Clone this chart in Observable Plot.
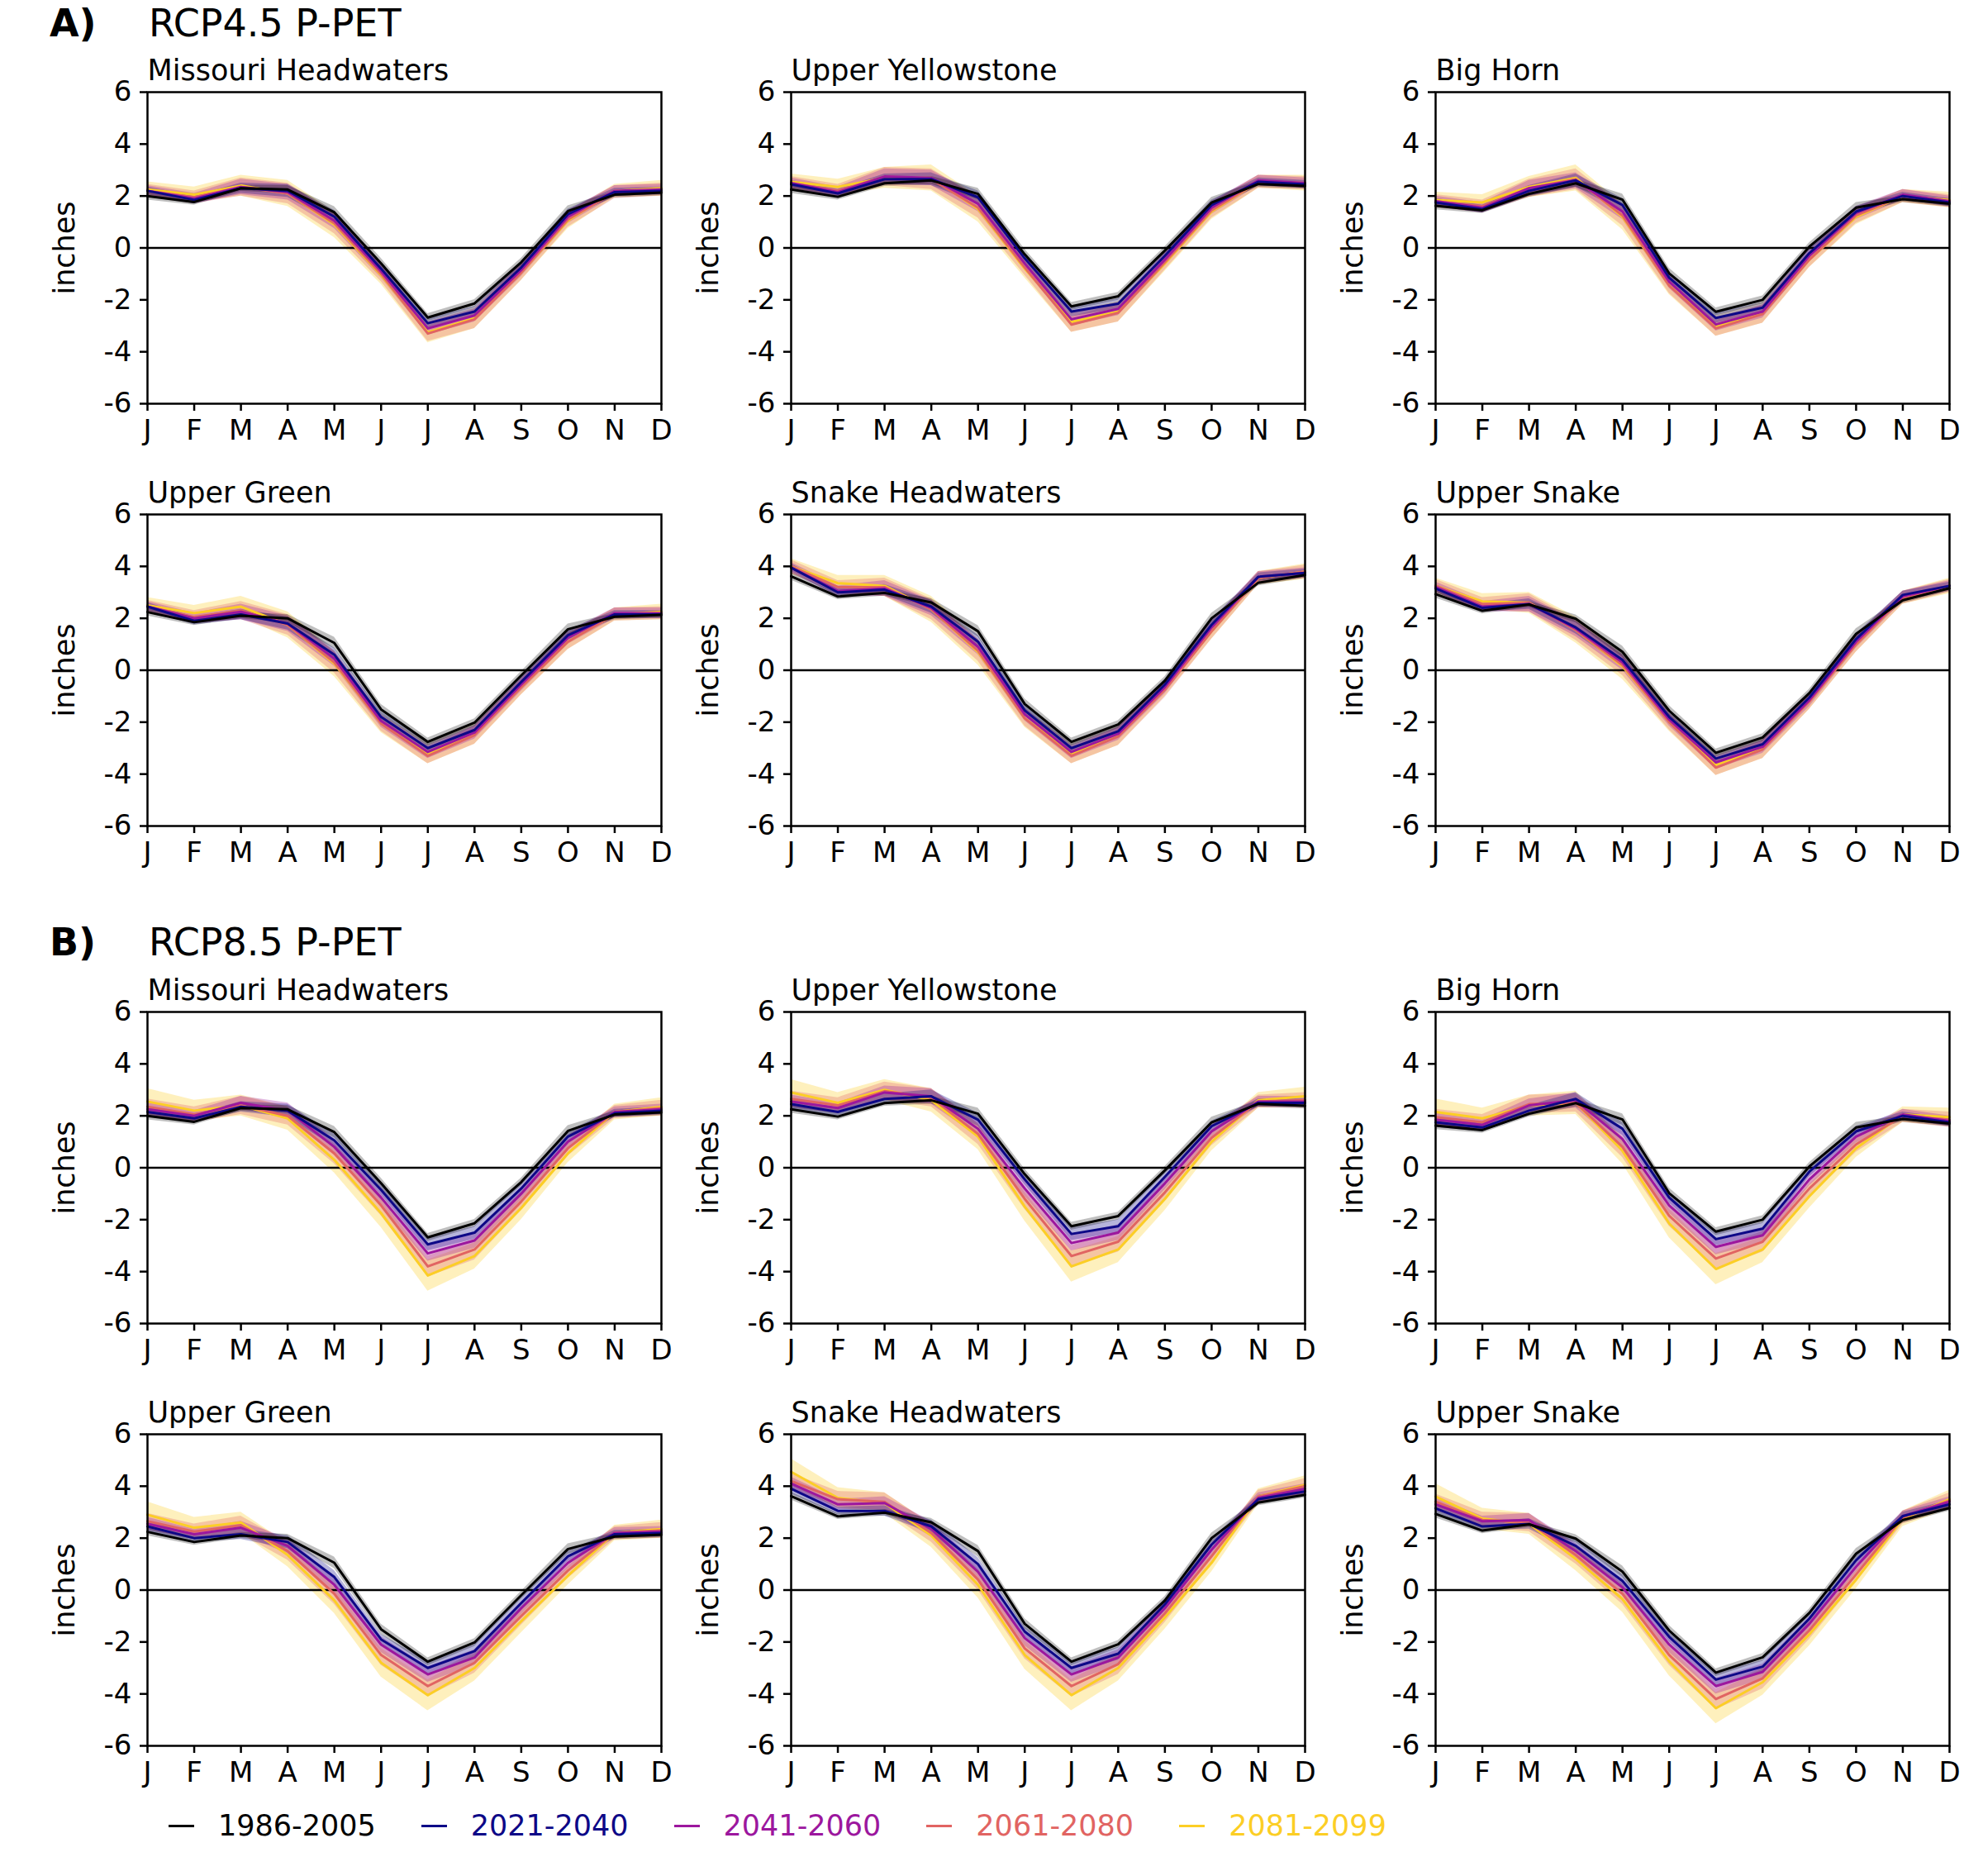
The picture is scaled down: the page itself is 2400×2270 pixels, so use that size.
<!DOCTYPE html>
<html>
<head>
<meta charset="utf-8">
<script src="https://cdn.jsdelivr.net/npm/d3@7"></script>
<script src="https://cdn.jsdelivr.net/npm/@observablehq/plot@0.6"></script>
<style>
  html, body { margin: 0; padding: 0; background: #fff; }
  #root { position: relative; width: 2400px; height: 2270px; font-family: "DejaVu Sans", sans-serif; color: #000; overflow: hidden; }
  .ttl { position: absolute; font-size: 46px; line-height: 1; white-space: nowrap; }
  .ttl b { font-weight: bold; }
  #legend { position: absolute; left: 204px; top: 2192px; display: flex; align-items: center; gap: 55px; font-size: 35px; line-height: 1; white-space: nowrap; }
  .item { display: flex; align-items: center; }
  .dash { display: inline-block; width: 31px; height: 2.5px; margin-right: 29px; }
</style>
</head>
<body>
<div id="root"></div>
<script>
// ---------- data ----------
const monthLabels = ["J","F","M","A","M","J","J","A","S","O","N","D"];
const yTicks = [-6, -4, -2, 0, 2, 4, 6];
const periods = ["1986-2005", "2021-2040", "2041-2060", "2061-2080", "2081-2099"];
const periodColors = ["#000000", "#0d0887", "#9c179e", "#e16462", "#fcce25"];
const basins = ["Missouri Headwaters", "Upper Yellowstone", "Big Horn", "Upper Green", "Snake Headwaters", "Upper Snake"];

// historical (1986-2005) mean P-PET, inches
const histMissouri    = [2.0, 1.77, 2.3, 2.25, 1.37, -0.6, -2.68, -2.14, -0.55, 1.42, 2.05, 2.13];
const histYellowstone = [2.25, 1.97, 2.49, 2.6, 2.08, -0.25, -2.25, -1.86, -0.1, 1.75, 2.46, 2.39];
const histBigHorn     = [1.62, 1.45, 2.08, 2.49, 1.86, -0.98, -2.46, -2.0, 0.05, 1.55, 1.88, 1.7];
const histGreen       = [2.24, 1.85, 2.1, 2.0, 1.05, -1.51, -2.76, -2.02, -0.2, 1.58, 2.06, 2.13];
const histSnakeHW     = [3.62, 2.84, 2.98, 2.61, 1.5, -1.3, -2.76, -2.09, -0.4, 2.0, 3.37, 3.67];
const histUpperSnake  = [2.93, 2.29, 2.53, 1.98, 0.71, -1.56, -3.18, -2.59, -0.88, 1.4, 2.7, 3.16];

// RCP4.5 future means: [2021-2040, 2041-2060, 2061-2080, 2081-2099]
const rcp45Missouri = [
  [2.2, 1.85, 2.3, 2.2, 1.2, -0.8, -2.9, -2.45, -0.75, 1.3, 2.15, 2.2],
  [2.2, 1.9, 2.35, 2.15, 1.05, -0.9, -3.1, -2.6, -0.85, 1.2, 2.2, 2.25],
  [2.2, 1.95, 2.35, 2.1, 0.95, -1.0, -3.3, -2.75, -0.95, 1.1, 2.15, 2.25],
  [2.25, 2.05, 2.4, 2.1, 0.9, -1.05, -3.25, -2.7, -0.95, 1.05, 2.2, 2.3]];
const rcp45Yellowstone = [
  [2.45, 2.1, 2.65, 2.65, 1.95, -0.4, -2.45, -2.15, -0.3, 1.65, 2.55, 2.45],
  [2.5, 2.15, 2.75, 2.7, 1.7, -0.6, -2.75, -2.35, -0.45, 1.55, 2.6, 2.5],
  [2.5, 2.2, 2.75, 2.65, 1.55, -0.75, -2.95, -2.5, -0.55, 1.45, 2.55, 2.5],
  [2.55, 2.35, 2.7, 2.7, 1.5, -0.8, -2.85, -2.45, -0.6, 1.4, 2.55, 2.5]];
const rcp45BigHorn = [
  [1.75, 1.5, 2.2, 2.6, 1.65, -1.15, -2.7, -2.3, -0.2, 1.4, 2.0, 1.75],
  [1.8, 1.55, 2.3, 2.6, 1.4, -1.3, -2.95, -2.45, -0.3, 1.35, 2.05, 1.8],
  [1.8, 1.6, 2.3, 2.65, 1.25, -1.45, -3.1, -2.55, -0.45, 1.25, 2.0, 1.8],
  [1.85, 1.75, 2.35, 2.7, 1.2, -1.45, -3.0, -2.5, -0.45, 1.2, 2.0, 1.85]];
const rcp45Green = [
  [2.45, 1.9, 2.15, 1.8, 0.6, -1.8, -3.0, -2.3, -0.45, 1.35, 2.15, 2.15],
  [2.45, 2.0, 2.25, 1.8, 0.45, -1.95, -3.15, -2.4, -0.55, 1.25, 2.2, 2.2],
  [2.45, 2.05, 2.3, 1.75, 0.3, -2.05, -3.3, -2.5, -0.65, 1.1, 2.15, 2.2],
  [2.5, 2.2, 2.45, 1.75, 0.25, -2.05, -3.2, -2.45, -0.65, 1.1, 2.15, 2.25]];
const rcp45SnakeHW = [
  [3.95, 3.0, 3.1, 2.45, 1.1, -1.55, -3.0, -2.35, -0.55, 1.75, 3.6, 3.75],
  [3.95, 3.05, 3.15, 2.4, 0.9, -1.7, -3.15, -2.45, -0.65, 1.65, 3.6, 3.75],
  [4.0, 3.2, 3.2, 2.35, 0.75, -1.85, -3.3, -2.55, -0.75, 1.5, 3.55, 3.8],
  [4.0, 3.35, 3.25, 2.35, 0.7, -1.85, -3.2, -2.5, -0.7, 1.5, 3.55, 3.8]];
const rcp45UpperSnake = [
  [3.15, 2.4, 2.55, 1.65, 0.4, -1.8, -3.4, -2.85, -1.05, 1.2, 2.9, 3.25],
  [3.2, 2.45, 2.55, 1.6, 0.3, -1.9, -3.55, -2.95, -1.15, 1.1, 2.85, 3.25],
  [3.25, 2.55, 2.6, 1.55, 0.2, -2.0, -3.75, -3.05, -1.2, 1.0, 2.8, 3.25],
  [3.25, 2.65, 2.6, 1.55, 0.15, -2.0, -3.65, -3.0, -1.2, 1.0, 2.8, 3.25]];

// RCP8.5 future means
const rcp85Missouri = [
  [2.15, 1.9, 2.35, 2.2, 1.05, -0.85, -2.95, -2.5, -0.8, 1.2, 2.1, 2.2],
  [2.25, 2.0, 2.5, 2.2, 0.8, -1.15, -3.3, -2.8, -1.0, 1.0, 2.15, 2.25],
  [2.35, 2.05, 2.4, 2.0, 0.55, -1.45, -3.8, -3.15, -1.3, 0.75, 2.15, 2.3],
  [2.55, 2.2, 2.4, 1.9, 0.3, -1.75, -4.15, -3.4, -1.55, 0.55, 2.15, 2.35]];
const rcp85Yellowstone = [
  [2.45, 2.15, 2.65, 2.75, 1.85, -0.45, -2.55, -2.25, -0.35, 1.6, 2.5, 2.5],
  [2.55, 2.3, 2.9, 2.75, 1.5, -0.8, -2.9, -2.5, -0.6, 1.4, 2.55, 2.55],
  [2.65, 2.4, 2.95, 2.7, 1.3, -1.2, -3.4, -2.85, -0.95, 1.15, 2.55, 2.6],
  [2.9, 2.5, 3.0, 2.6, 1.2, -1.5, -3.8, -3.15, -1.2, 1.0, 2.6, 2.75]];
const rcp85BigHorn = [
  [1.75, 1.55, 2.2, 2.65, 1.5, -1.15, -2.75, -2.35, -0.15, 1.4, 2.0, 1.75],
  [1.85, 1.65, 2.4, 2.6, 1.1, -1.45, -3.05, -2.6, -0.45, 1.2, 2.05, 1.8],
  [1.95, 1.75, 2.45, 2.5, 0.8, -1.85, -3.5, -2.85, -0.8, 0.9, 2.0, 1.85],
  [2.15, 1.9, 2.4, 2.5, 0.65, -2.15, -3.9, -3.15, -1.1, 0.75, 2.05, 1.95]];
const rcp85Green = [
  [2.45, 2.0, 2.15, 1.85, 0.5, -1.9, -3.0, -2.35, -0.5, 1.3, 2.15, 2.2],
  [2.55, 2.15, 2.4, 1.7, 0.2, -2.1, -3.25, -2.6, -0.7, 1.05, 2.2, 2.25],
  [2.65, 2.25, 2.5, 1.5, -0.15, -2.5, -3.7, -2.8, -1.0, 0.75, 2.2, 2.3],
  [2.9, 2.4, 2.6, 1.35, -0.4, -2.8, -4.05, -3.0, -1.2, 0.55, 2.2, 2.35]];
const rcp85SnakeHW = [
  [3.9, 3.05, 3.05, 2.45, 1.0, -1.6, -3.0, -2.45, -0.55, 1.75, 3.5, 3.8],
  [4.1, 3.3, 3.35, 2.35, 0.7, -1.85, -3.25, -2.6, -0.7, 1.55, 3.55, 3.9],
  [4.2, 3.5, 3.4, 2.2, 0.4, -2.25, -3.7, -2.85, -0.9, 1.3, 3.6, 4.0],
  [4.55, 3.55, 3.35, 2.1, 0.2, -2.5, -4.05, -3.0, -1.05, 1.05, 3.6, 4.05]];
const rcp85UpperSnake = [
  [3.15, 2.45, 2.55, 1.7, 0.35, -1.8, -3.45, -2.95, -1.1, 1.15, 2.85, 3.3],
  [3.3, 2.65, 2.7, 1.5, 0.1, -2.1, -3.7, -3.15, -1.3, 0.9, 2.85, 3.4],
  [3.4, 2.7, 2.6, 1.35, -0.15, -2.5, -4.2, -3.4, -1.55, 0.6, 2.8, 3.45],
  [3.6, 2.75, 2.55, 1.2, -0.35, -2.75, -4.55, -3.55, -1.7, 0.4, 2.75, 3.5]];

// half-width of shaded ranges (inches), per period
const spreadHist   = [0.15, 0.12, 0.12, 0.15, 0.22, 0.2, 0.15, 0.15, 0.15, 0.2, 0.12, 0.12];
const spread45 = [
  [0.15, 0.15, 0.2, 0.25, 0.25, 0.2, 0.2, 0.2, 0.2, 0.2, 0.15, 0.15],
  [0.2, 0.2, 0.3, 0.3, 0.3, 0.25, 0.25, 0.25, 0.25, 0.25, 0.2, 0.2],
  [0.25, 0.25, 0.35, 0.4, 0.4, 0.3, 0.3, 0.35, 0.3, 0.3, 0.25, 0.25],
  [0.3, 0.3, 0.4, 0.5, 0.5, 0.35, 0.4, 0.4, 0.3, 0.3, 0.25, 0.3]];
const spread85 = [
  [0.2, 0.15, 0.2, 0.25, 0.25, 0.2, 0.25, 0.25, 0.2, 0.2, 0.15, 0.15],
  [0.25, 0.2, 0.25, 0.3, 0.3, 0.3, 0.3, 0.3, 0.25, 0.25, 0.2, 0.2],
  [0.3, 0.3, 0.35, 0.35, 0.4, 0.4, 0.4, 0.4, 0.35, 0.3, 0.25, 0.3],
  [0.5, 0.4, 0.4, 0.45, 0.5, 0.55, 0.6, 0.5, 0.45, 0.35, 0.3, 0.35]];

const histAll = [histMissouri, histYellowstone, histBigHorn, histGreen, histSnakeHW, histUpperSnake];
const fut45All = [rcp45Missouri, rcp45Yellowstone, rcp45BigHorn, rcp45Green, rcp45SnakeHW, rcp45UpperSnake];
const fut85All = [rcp85Missouri, rcp85Yellowstone, rcp85BigHorn, rcp85Green, rcp85SnakeHW, rcp85UpperSnake];

// ---------- layout ----------
const root = document.getElementById("root");
const colLeft = [58, 837, 1617];
const rowTop = [61, 572, 1174, 1685];
const M = { left: 120, right: 20, top: 50, bottom: 60 };
const frameW = 622, frameH = 377;

function addTitle(letter, text, top) {
  const d1 = document.createElement("div");
  d1.className = "ttl"; d1.style.left = "60px"; d1.style.top = top + "px";
  d1.innerHTML = "<b>" + letter + "</b>";
  root.appendChild(d1);
  const d2 = document.createElement("div");
  d2.className = "ttl"; d2.style.left = "180px"; d2.style.top = top + "px";
  d2.textContent = text;
  root.appendChild(d2);
}
addTitle("A)", "RCP4.5 P-PET", 5);
addTitle("B)", "RCP8.5 P-PET", 1117);

const monthIdx = monthLabels.map((_, i) => i);

function panel(hist, fut, spreads, title) {
  const series = [hist, ...fut];
  const data = [];
  series.forEach((vals, p) => vals.forEach((v, i) => {
    data.push({ p, m: i, v, lo: v - spreads[p][i], hi: v + spreads[p][i] });
  }));
  const order = [4, 3, 2, 1, 0];
  const marks = [];
  for (const p of order) {
    marks.push(Plot.areaY(data.filter(d => d.p === p), { x: "m", y1: "lo", y2: "hi", fill: periodColors[p], fillOpacity: p === 0 ? 0.25 : 0.3 }));
  }
  marks.push(Plot.ruleY([0], { stroke: "black", strokeWidth: 2.5 }));
  for (const p of order) {
    marks.push(Plot.lineY(data.filter(d => d.p === p), { x: "m", y: "v", stroke: periodColors[p], strokeWidth: 3 }));
  }
  marks.push(
    Plot.axisX({ ticks: monthIdx, tickFormat: i => monthLabels[i], tickSize: 9, tickPadding: 10, strokeWidth: 2.5, label: null, fontSize: 34 }),
    Plot.axisY({ ticks: yTicks, tickFormat: d => String(d), tickSize: 9, tickPadding: 10, strokeWidth: 2.5, label: null, fontSize: 34 }),
    Plot.frame({ stroke: "black", strokeWidth: 2.5 }),
    Plot.text([title], { text: d => d, frameAnchor: "top-left", dy: -15, textAnchor: "start", lineAnchor: "bottom", fontSize: 35 }),
    Plot.text(["inches"], { text: d => d, frameAnchor: "left", dx: -100, rotate: -90, textAnchor: "middle", lineAnchor: "middle", fontSize: 35 })
  );
  return Plot.plot({
    width: M.left + frameW + M.right,
    height: M.top + frameH + M.bottom,
    marginLeft: M.left, marginRight: M.right, marginTop: M.top, marginBottom: M.bottom,
    x: { domain: [0, 11] },
    y: { domain: [-6, 6] },
    style: { fontFamily: "DejaVu Sans, sans-serif", fontSize: "34px", background: "transparent", overflow: "visible" },
    marks
  });
}

function place(el, left, top) {
  el.style.position = "absolute";
  el.style.left = left + "px";
  el.style.top = top + "px";
  el.style.maxWidth = "none";
  root.appendChild(el);
}

[[fut45All, spread45, 0], [fut85All, spread85, 2]].forEach(([futAll, spreads, r0]) => {
  const sp = [spreadHist, ...spreads];
  basins.forEach((name, b) => {
    const row = r0 + Math.floor(b / 3), col = b % 3;
    place(panel(histAll[b], futAll[b], sp, name), colLeft[col], rowTop[row]);
  });
});

// legend
const legend = document.createElement("div");
legend.id = "legend";
periods.forEach((p, i) => {
  const item = document.createElement("div");
  item.className = "item";
  const dash = document.createElement("span");
  dash.className = "dash"; dash.style.background = periodColors[i];
  const t = document.createElement("span");
  t.textContent = p; t.style.color = periodColors[i];
  item.appendChild(dash); item.appendChild(t);
  legend.appendChild(item);
});
root.appendChild(legend);
</script>
</body>
</html>
